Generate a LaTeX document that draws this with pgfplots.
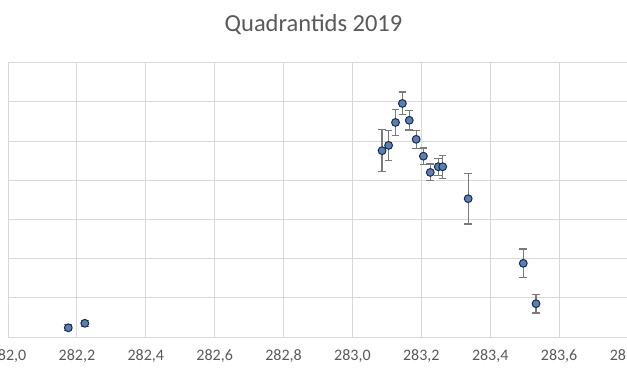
\documentclass[border=0pt]{standalone}
\usepackage{pgfplots}
\pgfplotsset{compat=1.18}
\usepackage{fontspec}
\setmainfont{Carlito}
\definecolor{txt}{HTML}{595959}
\definecolor{gridc}{HTML}{D9D9D9}
\definecolor{axc}{HTML}{BFBFBF}
\definecolor{mk}{HTML}{5580BD}
\definecolor{mkd}{HTML}{1C2A40}
\definecolor{errc}{HTML}{7A7A7A}
\begin{document}
\begin{tikzpicture}[x=1pt,y=1pt]
\begin{axis}[
  at={(8pt,39pt)}, anchor=south west,
  width=620pt, height=274.3pt, scale only axis,
  xmin=282, xmax=283.8, ymin=0, ymax=140,
  xtick={282,282.2,282.4,282.6,282.8,283,283.2,283.4,283.6,283.8},
  xticklabels={{282,0},{282,2},{282,4},{282,6},{282,8},{283,0},{283,2},{283,4},{283,6},{283,8}},
  ytick={0,20,40,60,80,100,120,140},
  yticklabel=\empty,
  grid=major,
  major grid style={draw=gridc, line width=0.9pt},
  axis x line*=bottom, axis y line*=left,
  x axis line style={draw=gridc, line width=0.9pt, -},
  y axis line style={draw=none},
  major tick length=0pt,
  tick style={draw=none},
  xticklabel style={font=\fontsize{16}{19}\selectfont, text=txt, yshift=-9pt},
  clip=false,
]
\addplot[only marks, mark=*, mark size=3.9pt,
  mark options={fill=mk, draw=mkd, line width=1pt},
  error bars/.cd, y dir=both, y explicit,
  error bar style={draw=errc, line width=1.2pt},
  error mark options={rotate=90, mark size=3.8pt, draw=errc, line width=1.2pt}]
table[x=x, y=y, y error=e] {
x y e
282.175 4.7 1.5
282.223 7.0 1.5
283.086 95.1 10.8
283.105 97.8 7.7
283.125 109.5 6.6
283.145 119.2 5.8
283.165 110.6 4.9
283.185 100.9 4.5
283.206 92.3 4.2
283.226 84.0 4.3
283.249 86.9 4.3
283.262 86.9 5.8
283.336 70.6 12.9
283.496 37.6 7.3
283.533 17.0 4.8
};
\end{axis}
\node[text=txt, font=\fontsize{24.5}{29}\selectfont] at (313.5,351) {Quadrantids 2019};
\pgfresetboundingbox
\useasboundingbox (0,0) rectangle (627,376);
\end{tikzpicture}
\end{document}
